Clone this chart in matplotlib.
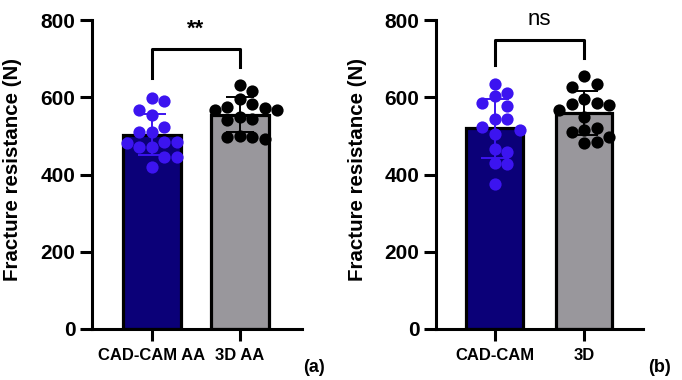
import matplotlib
matplotlib.use("Agg")
import matplotlib.pyplot as plt
import numpy as np

plt.rcParams['font.family'] = ['Liberation Sans', 'DejaVu Sans']

# datos (N)
grupos_a = ['CAD-CAM AA', '3D AA']
cadcam_aa = [589, 597, 567, 554, 524, 509, 509, 485, 485, 481, 470, 470, 445, 445, 419]
d3_aa = [632, 617, 573, 567, 576, 583, 595, 566, 550, 541, 543, 492, 498, 496, 500]

grupos_b = ['CAD-CAM', '3D']
cadcam = [635, 610, 604, 585, 578, 543, 543, 522, 514, 505, 466, 459, 429, 427, 375]
d3 = [656, 626, 635, 580, 583, 595, 586, 566, 548, 509, 520, 514, 498, 481, 485]

signif_a = '**'
signif_b = 'ns'

color_barras = ['#0b0078', '#99979c']
color_puntos = ['#3c14f0', '#000000']


def enjambre(ax, x0, valores, diam_px):
    # coloca los puntos en columnas para que no se solapen (tipo GraphPad)
    puestos = []
    xs = np.zeros(len(valores))
    orden = np.argsort(valores)[::-1]
    for i in orden:
        py = ax.transData.transform((x0, valores[i]))[1]
        for k in [0, 1, -1, 2, -2, 3, -3, 4, -4]:
            px = ax.transData.transform((x0, 0))[0] + k * diam_px
            if all((px - qx) ** 2 + (py - qy) ** 2 >= (0.95 * diam_px) ** 2 for qx, qy in puestos):
                break
        puestos.append((px, py))
        xs[i] = ax.transData.inverted().transform((px, py))[0]
    return xs


def panel(ax, grupos, series, xlim, ancho, signo, y_sig, patas, negrita, letra, x_letra):
    pos = np.arange(len(grupos))
    ax.set_xlim(*xlim)
    ax.set_ylim(0, 800)
    medias = [np.mean(s) for s in series]
    desv = [np.std(s, ddof=1) for s in series]
    ax.bar(pos, medias, width=ancho, color=color_barras, edgecolor='black', linewidth=2.3, zorder=1)
    for i, s in enumerate(series):
        xs = enjambre(ax, pos[i], s, 12.5)
        ax.plot(xs, s, 'o', color=color_puntos[i], markersize=8.8, markeredgewidth=0, zorder=3)
        ax.errorbar(pos[i], medias[i], yerr=desv[i], color=color_puntos[i], capsize=10,
                    elinewidth=1.4, capthick=1.4, zorder=4)
    # corchete de significacion
    ax.plot([pos[0], pos[0], pos[1], pos[1]], [patas[0], y_sig, y_sig, patas[1]],
            color='black', linewidth=2.2, clip_on=False, zorder=5)
    ax.text(0.5, y_sig + 25, signo, ha='center', va='bottom', fontsize=16,
            fontweight='bold' if negrita else 'normal')
    ax.set_xticks(pos)
    ax.set_xticklabels(grupos, fontsize=12, fontweight='bold')
    ax.set_yticks([0, 200, 400, 600, 800])
    ax.tick_params(axis='y', labelsize=15, width=2.2, length=8.5)
    ax.tick_params(axis='x', width=2.2, length=8.5, pad=5)
    for t in ax.get_yticklabels():
        t.set_fontweight('bold')
    ax.set_ylabel('Fracture resistance (N)', fontsize=14.8, fontweight='bold')
    ax.yaxis.set_label_coords(-0.333, 0.517)
    for lado in ['top', 'right']:
        ax.spines[lado].set_visible(False)
    for lado in ['left', 'bottom']:
        ax.spines[lado].set_linewidth(2.2)
    ax.text(x_letra, -0.123, letra, transform=ax.transAxes, fontsize=13, fontweight='bold',
            ha='center', va='center')


fig = plt.figure(figsize=(6.82, 3.8), dpi=100)
ax1 = fig.add_axes([92 / 682, 51 / 380, 210 / 682, 309 / 380])
ax2 = fig.add_axes([436 / 682, 51 / 380, 207 / 682, 309 / 380])

panel(ax1, grupos_a, [cadcam_aa, d3_aa], (-0.682, 1.705), 0.66, signif_a, 725, (650, 678), True, '(a)', 1.057)
panel(ax2, grupos_b, [cadcam, d3], (-0.654, 1.659), 0.63, signif_b, 749, (684, 702), False, '(b)', 1.082)

fig.savefig('out.png', dpi=100)
